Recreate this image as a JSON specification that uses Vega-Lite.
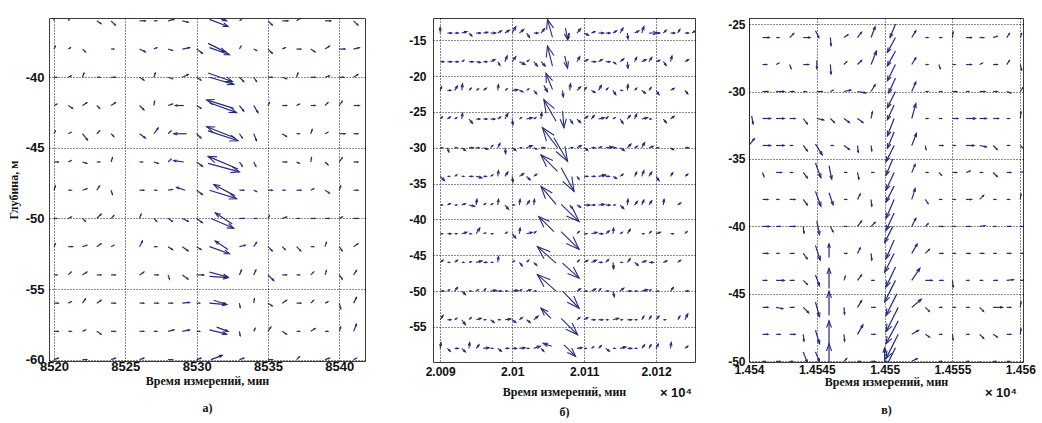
{
"$schema":"https://vega.github.io/schema/vega-lite/v6.json",
"background":"white",
"padding":{"left":6,"top":17,"right":0,"bottom":0},
"spacing":31,
"config":{
 "view":{"stroke":"#3a3a3a","strokeWidth":1},
 "axis":{"grid":true,"gridColor":"#000","gridDash":[1,2],"gridWidth":1,"gridOpacity":0.9,"ticks":false,"domain":false,"labelFont":"Liberation Sans","labelFontWeight":"bold","labelFontSize":12,"labelColor":"#111","labelFlush":false,"titleFont":"Liberation Serif","titleFontWeight":"bold","titleFontSize":12,"titleColor":"#111"}
},
"datasets":{
"a":[
{"x":8520,"y":-36,"u":0,"v":0.4},{"x":8521,"y":-36,"u":0.2,"v":0.3},{"x":8523,"y":-36,"u":0.3,"v":-0.2},{"x":8524,"y":-36,"u":0.3,"v":-0.3},{"x":8526,"y":-36,"u":0.4,"v":0},{"x":8527,"y":-36,"u":0.2,"v":0},{"x":8528,"y":-36,"u":0.4,"v":0.1},{"x":8529,"y":-36,"u":0.4,"v":-0.1},{"x":8530.9,"y":-35.9,"u":1.3,"v":-0.5},{"x":8531,"y":-35.6,"u":1.1,"v":-0.4},{"x":8533,"y":-36,"u":0.15,"v":0.1},{"x":8535,"y":-36,"u":0.3,"v":-0.3},{"x":8536,"y":-36,"u":0.4,"v":0},{"x":8537,"y":-36,"u":0.3,"v":0.2},{"x":8539,"y":-36,"u":0.4,"v":0},{"x":8541,"y":-36,"u":0.3,"v":-0.3},
{"x":8520,"y":-38,"u":0.1,"v":0.2},{"x":8521,"y":-38,"u":0.15,"v":0.1},{"x":8522,"y":-38,"u":0.2,"v":-0.2},{"x":8524,"y":-38,"u":0.2,"v":0},{"x":8526,"y":-38,"u":0.4,"v":-0.2},{"x":8527,"y":-38,"u":0.2,"v":0.1},{"x":8528,"y":-38,"u":0.3,"v":-0.1},{"x":8529,"y":-38,"u":0.5,"v":0.1},{"x":8530,"y":-38,"u":0.4,"v":-0.3},{"x":8530.9,"y":-37.9,"u":1.4,"v":-0.5},{"x":8530.8,"y":-37.6,"u":1.2,"v":-0.6},{"x":8533,"y":-38,"u":0.1,"v":0.2},{"x":8534,"y":-38,"u":0.2,"v":-0.1},{"x":8535,"y":-38,"u":0.3,"v":-0.3},{"x":8536,"y":-38,"u":0.2,"v":0.1},{"x":8537,"y":-38,"u":0.3,"v":0},{"x":8538,"y":-38,"u":0.3,"v":-0.2},{"x":8539,"y":-38,"u":0.3,"v":0.2},{"x":8540,"y":-38,"u":0.4,"v":0},{"x":8541,"y":-38,"u":0.4,"v":0.1},
{"x":8520,"y":-40,"u":0.2,"v":0},{"x":8521,"y":-40,"u":0.2,"v":0.1},{"x":8522,"y":-40,"u":0.1,"v":0.3},{"x":8523,"y":-40,"u":0.2,"v":0},{"x":8524,"y":-40,"u":0.3,"v":0},{"x":8526,"y":-40,"u":0.3,"v":-0.2},{"x":8527,"y":-40,"u":0.1,"v":0.3},{"x":8528,"y":-40,"u":0.3,"v":-0.1},{"x":8529,"y":-40,"u":0.4,"v":0.2},{"x":8530,"y":-40,"u":0.3,"v":-0.2},{"x":8530.8,"y":-39.7,"u":1.7,"v":-0.6},{"x":8530.9,"y":-40,"u":1.7,"v":-0.5},{"x":8533,"y":-40,"u":0.3,"v":-0.3},{"x":8534,"y":-40,"u":0.2,"v":-0.3},{"x":8535,"y":-40,"u":0.3,"v":0},{"x":8536,"y":-40,"u":0.3,"v":-0.1},{"x":8537,"y":-40,"u":0.1,"v":0.3},{"x":8538,"y":-40,"u":0.3,"v":0},{"x":8539,"y":-40,"u":0.3,"v":0.1},{"x":8540,"y":-40,"u":0.3,"v":0},{"x":8541,"y":-40,"u":0.3,"v":0.2},
{"x":8520,"y":-42,"u":0.2,"v":0.1},{"x":8521,"y":-42,"u":0.3,"v":-0.2},{"x":8522,"y":-42,"u":0.3,"v":0.2},{"x":8523,"y":-42,"u":0.2,"v":-0.2},{"x":8524,"y":-42,"u":0.3,"v":0.2},{"x":8526,"y":-42,"u":0.3,"v":-0.3},{"x":8527,"y":-42,"u":0.05,"v":0.3},{"x":8528,"y":-42,"u":0.3,"v":0.1},{"x":8529.1,"y":-42,"u":-0.6,"v":0},{"x":8530,"y":-42,"u":0.3,"v":-0.2},{"x":8532.6,"y":-42.2,"u":-1.9,"v":0.6},{"x":8530.9,"y":-41.8,"u":1.9,"v":-0.7},{"x":8533,"y":-42,"u":0.3,"v":-0.4},{"x":8534,"y":-42,"u":0.3,"v":-0.5},{"x":8535,"y":-42,"u":0.1,"v":0.2},{"x":8536,"y":-42,"u":0.3,"v":0},{"x":8537,"y":-42,"u":0.2,"v":0.1},{"x":8538,"y":-42,"u":0.3,"v":0},{"x":8539,"y":-42,"u":0.2,"v":0.2},{"x":8540,"y":-42,"u":0.2,"v":0.3},{"x":8541,"y":-42,"u":0.4,"v":0},
{"x":8520,"y":-44,"u":0.1,"v":0.2},{"x":8521,"y":-44,"u":0.2,"v":0.1},{"x":8522,"y":-44,"u":0.35,"v":-0.45},{"x":8523,"y":-44,"u":0.2,"v":0.2},{"x":8524,"y":-44,"u":0.2,"v":-0.2},{"x":8526,"y":-44,"u":0.4,"v":-0.3},{"x":8527,"y":-44,"u":0.3,"v":0.4},{"x":8528,"y":-44,"u":0.2,"v":0.2},{"x":8529.3,"y":-44,"u":-0.9,"v":0},{"x":8530,"y":-44,"u":0.3,"v":-0.3},{"x":8532.7,"y":-44.3,"u":-2,"v":0.8},{"x":8530.8,"y":-43.8,"u":2.1,"v":-0.7},{"x":8533,"y":-44,"u":0.2,"v":-0.3},{"x":8534,"y":-44,"u":0.2,"v":-0.5},{"x":8536,"y":-44,"u":0.3,"v":-0.2},{"x":8537,"y":-44,"u":0.2,"v":0},{"x":8538,"y":-44,"u":0.1,"v":0.3},{"x":8539,"y":-44,"u":0.2,"v":0.1},{"x":8540,"y":-44,"u":0.4,"v":0},{"x":8541,"y":-44,"u":0.3,"v":0},
{"x":8520,"y":-46,"u":0.3,"v":0},{"x":8521,"y":-46,"u":0.2,"v":0.1},{"x":8522,"y":-46,"u":0.3,"v":-0.1},{"x":8523,"y":-46,"u":0.2,"v":0},{"x":8524,"y":-46,"u":0.1,"v":0.3},{"x":8526,"y":-46,"u":0.2,"v":0},{"x":8527,"y":-46,"u":0.3,"v":-0.1},{"x":8528,"y":-46,"u":0.2,"v":0.2},{"x":8529.1,"y":-46,"u":-0.7,"v":0.1},{"x":8530,"y":-46,"u":0.4,"v":-0.3},{"x":8532.9,"y":-46.5,"u":-2.1,"v":0.9},{"x":8530.8,"y":-46.1,"u":2.2,"v":-0.6},{"x":8533,"y":-46,"u":0.2,"v":-0.3},{"x":8534,"y":-46,"u":0.15,"v":-0.3},{"x":8536,"y":-46,"u":0.3,"v":0},{"x":8537,"y":-46,"u":0.2,"v":-0.1},{"x":8538,"y":-46,"u":0.05,"v":0.3},{"x":8539,"y":-46,"u":0.2,"v":-0.2},{"x":8540,"y":-46,"u":0.2,"v":0.3},{"x":8541,"y":-46,"u":0.3,"v":0},
{"x":8520,"y":-48,"u":0.1,"v":0.3},{"x":8521,"y":-48,"u":0.2,"v":0},{"x":8522,"y":-48,"u":0.3,"v":0.1},{"x":8523,"y":-48,"u":0.2,"v":0.3},{"x":8524,"y":-48,"u":0.1,"v":-0.3},{"x":8526,"y":-48,"u":0.3,"v":0},{"x":8527,"y":-48,"u":0.2,"v":0},{"x":8528,"y":-48,"u":0.3,"v":0.05},{"x":8529.2,"y":-48,"u":-0.6,"v":0.2},{"x":8530,"y":-48,"u":0.4,"v":-0.3},{"x":8532.7,"y":-48.4,"u":-1.5,"v":0.8},{"x":8530.9,"y":-48,"u":1.9,"v":-0.6},{"x":8533,"y":-48,"u":0.3,"v":0},{"x":8534,"y":-48,"u":0.2,"v":-0.1},{"x":8535,"y":-48,"u":0.3,"v":0},{"x":8536,"y":-48,"u":0.2,"v":0},{"x":8537,"y":-48,"u":0.3,"v":0},{"x":8538,"y":-48,"u":0.2,"v":0.1},{"x":8539,"y":-48,"u":0.3,"v":-0.2},{"x":8540,"y":-48,"u":0.1,"v":0.3},{"x":8541,"y":-48,"u":0.3,"v":0},
{"x":8520,"y":-50,"u":0.2,"v":0},{"x":8521,"y":-50,"u":0.2,"v":0.1},{"x":8522,"y":-50,"u":0.2,"v":-0.2},{"x":8523,"y":-50,"u":0.3,"v":0.3},{"x":8524,"y":-50,"u":0.2,"v":0.2},{"x":8526,"y":-50,"u":0.1,"v":0.3},{"x":8527,"y":-50,"u":0.2,"v":-0.2},{"x":8528,"y":-50,"u":0.3,"v":-0.2},{"x":8529,"y":-50,"u":0.4,"v":-0.2},{"x":8530,"y":-50,"u":0.4,"v":-0.3},{"x":8532.5,"y":-50.4,"u":-1.2,"v":0.8},{"x":8531,"y":-50,"u":1.6,"v":-0.7},{"x":8533,"y":-50,"u":0.3,"v":0},{"x":8534,"y":-50,"u":0.2,"v":0},{"x":8535,"y":-50,"u":0.1,"v":0.2},{"x":8536,"y":-50,"u":0.3,"v":0.1},{"x":8537,"y":-50,"u":0.2,"v":0},{"x":8538,"y":-50,"u":0.3,"v":0},{"x":8539,"y":-50,"u":0.3,"v":0},{"x":8540,"y":-50,"u":0.2,"v":0.1},{"x":8541,"y":-50,"u":0.3,"v":0},
{"x":8520,"y":-52,"u":0.1,"v":0.2},{"x":8521,"y":-52,"u":0.3,"v":0},{"x":8522,"y":-52,"u":0.3,"v":0.1},{"x":8523,"y":-52,"u":0.3,"v":0.2},{"x":8524,"y":-52,"u":0.2,"v":0.1},{"x":8526,"y":-52,"u":0.2,"v":0.4},{"x":8527,"y":-52,"u":0.2,"v":0},{"x":8528,"y":-52,"u":0.3,"v":-0.2},{"x":8529,"y":-52,"u":0.4,"v":-0.3},{"x":8530,"y":-52,"u":0.3,"v":-0.2},{"x":8532.2,"y":-52.2,"u":-0.9,"v":0.6},{"x":8530.9,"y":-52,"u":1.4,"v":-0.5},{"x":8533,"y":-52,"u":0.4,"v":0.1},{"x":8534,"y":-52,"u":0.2,"v":0.3},{"x":8535,"y":-52,"u":0.3,"v":-0.3},{"x":8536,"y":-52,"u":0.2,"v":-0.2},{"x":8537,"y":-52,"u":0.3,"v":-0.3},{"x":8538,"y":-52,"u":0.2,"v":0},{"x":8539,"y":-52,"u":0.1,"v":0.3},{"x":8540,"y":-52,"u":0.2,"v":-0.3},{"x":8541,"y":-52,"u":0.3,"v":0.2},
{"x":8520,"y":-54,"u":0.2,"v":0},{"x":8521,"y":-54,"u":0.2,"v":0.2},{"x":8522,"y":-54,"u":0.3,"v":0.2},{"x":8523,"y":-54,"u":0.3,"v":0},{"x":8524,"y":-54,"u":0.3,"v":0},{"x":8526,"y":-54,"u":0.3,"v":0.2},{"x":8527,"y":-54,"u":0.3,"v":0},{"x":8528,"y":-54,"u":0.1,"v":-0.3},{"x":8529,"y":-54,"u":0.4,"v":-0.3},{"x":8530,"y":-54,"u":0.5,"v":0},{"x":8530.9,"y":-53.8,"u":1.3,"v":-0.35},{"x":8530.9,"y":-54.1,"u":1.3,"v":-0.1},{"x":8533,"y":-54,"u":0.15,"v":0.35},{"x":8534,"y":-54,"u":0.15,"v":0.35},{"x":8535,"y":-54,"u":0.4,"v":-0.4},{"x":8536,"y":-54,"u":0.3,"v":0},{"x":8537,"y":-54,"u":0.2,"v":0},{"x":8538,"y":-54,"u":0.2,"v":0.2},{"x":8539,"y":-54,"u":0.1,"v":0.3},{"x":8540,"y":-54,"u":0.2,"v":-0.3},{"x":8541,"y":-54,"u":0.2,"v":0.3},
{"x":8520,"y":-56,"u":0.3,"v":0},{"x":8521,"y":-56,"u":0.2,"v":0.1},{"x":8522,"y":-56,"u":0.2,"v":0.3},{"x":8523,"y":-56,"u":0.3,"v":0.2},{"x":8524,"y":-56,"u":0.3,"v":0},{"x":8526,"y":-56,"u":0.3,"v":0},{"x":8527,"y":-56,"u":0.3,"v":0},{"x":8528,"y":-56,"u":0.3,"v":0},{"x":8529,"y":-56,"u":0.5,"v":0.05},{"x":8530,"y":-56,"u":0.2,"v":0},{"x":8530.9,"y":-56,"u":1.2,"v":-0.1},{"x":8531.2,"y":-55.8,"u":0.9,"v":-0.3},{"x":8533,"y":-56,"u":0.05,"v":-0.3},{"x":8534,"y":-56,"u":0.05,"v":0.3},{"x":8535,"y":-56,"u":0.3,"v":-0.2},{"x":8536,"y":-56,"u":0.3,"v":0.2},{"x":8537,"y":-56,"u":0.3,"v":0},{"x":8538,"y":-56,"u":0.2,"v":0.2},{"x":8539,"y":-56,"u":0.2,"v":0.1},{"x":8540,"y":-56,"u":0.1,"v":-0.4},{"x":8541,"y":-56,"u":0.2,"v":0.4},
{"x":8520,"y":-58,"u":0.3,"v":0},{"x":8521,"y":-58,"u":0.2,"v":0},{"x":8522,"y":-58,"u":0.2,"v":0.1},{"x":8523,"y":-58,"u":0.3,"v":-0.2},{"x":8524,"y":-58,"u":0.3,"v":0},{"x":8526,"y":-58,"u":0.3,"v":0},{"x":8527,"y":-58,"u":0.2,"v":0},{"x":8528,"y":-58,"u":0.4,"v":0.1},{"x":8529,"y":-58,"u":0.5,"v":0.1},{"x":8530,"y":-58,"u":0.2,"v":0},{"x":8530.9,"y":-57.9,"u":1.2,"v":-0.3},{"x":8531.4,"y":-57.7,"u":0.8,"v":-0.3},{"x":8533,"y":-58,"u":0.05,"v":-0.3},{"x":8534,"y":-58,"u":0.1,"v":0.2},{"x":8535,"y":-58,"u":0.2,"v":0.3},{"x":8536,"y":-58,"u":0.3,"v":-0.2},{"x":8537,"y":-58,"u":0.2,"v":0},{"x":8538,"y":-58,"u":0.3,"v":0.2},{"x":8539,"y":-58,"u":0.2,"v":0},{"x":8540,"y":-58,"u":0.1,"v":0.3},{"x":8541,"y":-58,"u":0.2,"v":0.5},
{"x":8520,"y":-60,"u":0.3,"v":0.1},{"x":8522,"y":-60,"u":0.3,"v":0},{"x":8524,"y":-60,"u":0.3,"v":0.1},{"x":8526,"y":-60,"u":0.3,"v":0.1},{"x":8528,"y":-60,"u":0.3,"v":0},{"x":8530,"y":-60,"u":0.3,"v":0.1},{"x":8531,"y":-60,"u":0.8,"v":0.3},{"x":8533,"y":-60,"u":0.3,"v":0.1},{"x":8535,"y":-60,"u":0.3,"v":0},{"x":8537,"y":-60,"u":0.2,"v":0.2},{"x":8539,"y":-60,"u":0.3,"v":0.1},{"x":8541,"y":-60,"u":0.2,"v":0.1}
],
"b":[
{"x":20090,"y":-14,"u":0,"v":0.8},{"x":20091,"y":-14,"u":0.6,"v":0},{"x":20092,"y":-14,"u":0.5,"v":0},{"x":20093,"y":-14,"u":0.7,"v":0.2},{"x":20094,"y":-14,"u":0.4,"v":-0.4},{"x":20095,"y":-14,"u":0.6,"v":0},{"x":20096,"y":-14,"u":0.6,"v":0.1},{"x":20097,"y":-14,"u":0.7,"v":0},{"x":20098,"y":-14,"u":0.5,"v":0.3},{"x":20099,"y":-14,"u":0.6,"v":0.4},{"x":20100,"y":-14,"u":0.5,"v":0.9},{"x":20101,"y":-14,"u":0.6,"v":0.5},{"x":20102,"y":-14,"u":0.4,"v":-0.6},{"x":20103,"y":-14,"u":0.6,"v":0},{"x":20104,"y":-14,"u":0.5,"v":0.6},{"x":20105.6,"y":-14.6,"u":-0.7,"v":2.5},{"x":20107.4,"y":-13.3,"u":0.3,"v":-1.6},{"x":20108,"y":-14,"u":-0.3,"v":-0.9},{"x":20109,"y":-14,"u":0.5,"v":0.6},{"x":20110,"y":-14,"u":0.6,"v":-0.3},{"x":20111,"y":-14,"u":0.5,"v":0.2},{"x":20112,"y":-14,"u":0.7,"v":0},{"x":20113,"y":-14,"u":0.6,"v":0},{"x":20114,"y":-14,"u":0.5,"v":0.3},{"x":20115,"y":-14,"u":0.4,"v":0.7},{"x":20116,"y":-14,"u":0.1,"v":-0.8},{"x":20117,"y":-14,"u":0.6,"v":0.3},{"x":20118,"y":-14,"u":0.3,"v":0.9},{"x":20119,"y":-14,"u":1.2,"v":0},{"x":20120,"y":-14,"u":0.5,"v":0},{"x":20121,"y":-14,"u":0.4,"v":0.4},{"x":20122,"y":-14,"u":0.6,"v":0},{"x":20123,"y":-14,"u":0.3,"v":0.5},{"x":20124,"y":-14,"u":0.5,"v":0},{"x":20125,"y":-14,"u":0.4,"v":0.3},
{"x":20090,"y":-18,"u":0.5,"v":0},{"x":20091,"y":-18,"u":0.6,"v":0},{"x":20092,"y":-18,"u":0.5,"v":0},{"x":20093,"y":-18,"u":0.3,"v":0.2},{"x":20094,"y":-18,"u":0.6,"v":0},{"x":20095,"y":-18,"u":0.6,"v":-0.1},{"x":20096,"y":-18,"u":0.5,"v":0},{"x":20097,"y":-18,"u":0.6,"v":0.3},{"x":20098,"y":-18,"u":0.3,"v":-0.5},{"x":20099,"y":-18,"u":0.3,"v":0.8},{"x":20100,"y":-18,"u":0.5,"v":0.7},{"x":20101,"y":-18,"u":0.8,"v":-0.4},{"x":20102,"y":-18,"u":0.3,"v":0.2},{"x":20103,"y":-18,"u":0.5,"v":-0.6},{"x":20104,"y":-18,"u":0.6,"v":-0.6},{"x":20105.6,"y":-18.6,"u":-0.7,"v":2.8},{"x":20107.3,"y":-17.2,"u":0.4,"v":-1.7},{"x":20109,"y":-18,"u":0.4,"v":0.7},{"x":20110,"y":-18,"u":0.5,"v":0.3},{"x":20111,"y":-18,"u":0.6,"v":0},{"x":20112,"y":-18,"u":0.5,"v":0.3},{"x":20113,"y":-18,"u":0.6,"v":0},{"x":20114,"y":-18,"u":0.4,"v":-0.3},{"x":20115,"y":-18,"u":0.5,"v":0.4},{"x":20116,"y":-18,"u":0.1,"v":-0.9},{"x":20117,"y":-18,"u":0.3,"v":0.6},{"x":20118,"y":-18,"u":0.6,"v":0.3},{"x":20119,"y":-18,"u":0.4,"v":0.6},{"x":20120,"y":-18,"u":0.5,"v":0.2},{"x":20121,"y":-18,"u":0.4,"v":-0.5},{"x":20122,"y":-18,"u":0.2,"v":0.8},{"x":20124,"y":-18,"u":0.5,"v":0.3},
{"x":20090,"y":-22,"u":0.2,"v":0.5},{"x":20091,"y":-22,"u":0.5,"v":0},{"x":20092,"y":-22,"u":0.4,"v":0.6},{"x":20093,"y":-22,"u":0.1,"v":0.9},{"x":20094,"y":-22,"u":0.3,"v":0.3},{"x":20095,"y":-22,"u":0.3,"v":0.2},{"x":20096,"y":-22,"u":0.4,"v":0.3},{"x":20098,"y":-22,"u":0.1,"v":0.8},{"x":20099,"y":-22,"u":0.3,"v":0.2},{"x":20100,"y":-22,"u":0.8,"v":0.1},{"x":20101,"y":-22,"u":0.5,"v":-0.2},{"x":20102,"y":-22,"u":0.3,"v":0.2},{"x":20103,"y":-22,"u":0.4,"v":-0.5},{"x":20104.4,"y":-21.3,"u":0.5,"v":-0.9},{"x":20105.6,"y":-21.9,"u":-0.9,"v":2.3},{"x":20107,"y":-22,"u":0.1,"v":-0.9},{"x":20108,"y":-22,"u":0.1,"v":0.9},{"x":20109,"y":-22,"u":0.5,"v":0.5},{"x":20110,"y":-22,"u":0.3,"v":0.4},{"x":20111,"y":-22,"u":0.5,"v":-0.3},{"x":20112,"y":-22,"u":0.4,"v":0.7},{"x":20113,"y":-22,"u":0.3,"v":0.3},{"x":20114,"y":-22,"u":0.4,"v":-0.6},{"x":20115,"y":-22,"u":0.3,"v":0},{"x":20116,"y":-22,"u":0.1,"v":0.8},{"x":20117,"y":-22,"u":0.3,"v":0.3},{"x":20118,"y":-22,"u":0.5,"v":-0.4},{"x":20119,"y":-22,"u":0.3,"v":0.4},{"x":20120,"y":-22,"u":0.4,"v":-0.6},{"x":20122,"y":-22,"u":0.5,"v":0.3},{"x":20124,"y":-22,"u":0.4,"v":-0.5},
{"x":20090,"y":-26,"u":0.3,"v":0.3},{"x":20091,"y":-26,"u":0.4,"v":0.3},{"x":20092,"y":-26,"u":0.3,"v":0.2},{"x":20093,"y":-26,"u":0.1,"v":0.8},{"x":20094,"y":-26,"u":0.5,"v":-0.6},{"x":20095,"y":-26,"u":0.5,"v":0},{"x":20096,"y":-26,"u":0.5,"v":0},{"x":20097,"y":-26,"u":0.6,"v":0},{"x":20098,"y":-26,"u":0.4,"v":0.3},{"x":20099,"y":-26,"u":0.4,"v":0.8},{"x":20100,"y":-26,"u":0.1,"v":-0.8},{"x":20101,"y":-26,"u":0.3,"v":0.2},{"x":20102,"y":-26,"u":0.8,"v":0.2},{"x":20103,"y":-26,"u":0.3,"v":0.2},{"x":20104,"y":-26,"u":0.1,"v":0.9},{"x":20106.1,"y":-26.3,"u":-1.7,"v":3},{"x":20107,"y":-24.9,"u":0.2,"v":-2.3},{"x":20108,"y":-26,"u":0.4,"v":-0.6},{"x":20109,"y":-26,"u":0.5,"v":-0.5},{"x":20110,"y":-26,"u":0.5,"v":0.4},{"x":20111,"y":-26,"u":0.4,"v":0.5},{"x":20112,"y":-26,"u":0.8,"v":0.2},{"x":20113,"y":-26,"u":0.3,"v":0.3},{"x":20114,"y":-26,"u":0.3,"v":0.2},{"x":20115,"y":-26,"u":0.4,"v":-0.6},{"x":20116,"y":-26,"u":0.4,"v":0.5},{"x":20117,"y":-26,"u":0.3,"v":0.7},{"x":20118,"y":-26,"u":0.8,"v":0.2},{"x":20119,"y":-26,"u":0.3,"v":0},{"x":20121,"y":-26,"u":0.4,"v":-0.5},{"x":20122,"y":-26,"u":0.5,"v":0.4},
{"x":20090,"y":-30,"u":0.3,"v":0},{"x":20091,"y":-30,"u":0.2,"v":-0.6},{"x":20092,"y":-30,"u":0.3,"v":0},{"x":20093,"y":-30,"u":0.5,"v":-0.4},{"x":20094,"y":-30,"u":0.6,"v":0},{"x":20095,"y":-30,"u":0.4,"v":0},{"x":20096,"y":-30,"u":0.6,"v":-0.2},{"x":20097,"y":-30,"u":0.3,"v":0.3},{"x":20098,"y":-30,"u":0.3,"v":0.6},{"x":20099,"y":-30,"u":0.1,"v":-0.8},{"x":20100,"y":-30,"u":0.5,"v":-0.4},{"x":20101,"y":-30,"u":0.3,"v":0},{"x":20102,"y":-30,"u":0.8,"v":0.3},{"x":20103,"y":-30,"u":0.4,"v":-0.2},{"x":20104,"y":-30,"u":0.5,"v":0},{"x":20106.3,"y":-30,"u":-2.1,"v":2.8},{"x":20105.8,"y":-28.6,"u":1.9,"v":-3.3},{"x":20108,"y":-30,"u":0.4,"v":0},{"x":20109,"y":-30,"u":0.6,"v":0.3},{"x":20110,"y":-30,"u":0.5,"v":-0.4},{"x":20111,"y":-30,"u":0.5,"v":0},{"x":20112,"y":-30,"u":0.4,"v":0.1},{"x":20113,"y":-30,"u":1,"v":0.1},{"x":20114,"y":-30,"u":0.4,"v":0},{"x":20115,"y":-30,"u":0.6,"v":-0.4},{"x":20116,"y":-30,"u":0.5,"v":0.5},{"x":20117,"y":-30,"u":0.4,"v":0.2},{"x":20118,"y":-30,"u":0.4,"v":0.7},{"x":20119,"y":-30,"u":0.6,"v":0.2},{"x":20120,"y":-30,"u":0.3,"v":0},{"x":20122,"y":-30,"u":0.4,"v":-0.3},{"x":20124,"y":-30,"u":0.5,"v":0},
{"x":20090,"y":-34,"u":0.6,"v":-0.6},{"x":20091,"y":-34,"u":0.3,"v":0},{"x":20092,"y":-34,"u":0.3,"v":0.2},{"x":20093,"y":-34,"u":0.3,"v":0},{"x":20094,"y":-34,"u":0.5,"v":0},{"x":20095,"y":-34,"u":0.8,"v":-0.2},{"x":20096,"y":-34,"u":0.4,"v":0},{"x":20097,"y":-34,"u":0.3,"v":0.2},{"x":20098,"y":-34,"u":0.1,"v":0.8},{"x":20099,"y":-34,"u":0.4,"v":0.6},{"x":20100,"y":-34,"u":0.1,"v":-0.8},{"x":20101,"y":-34,"u":0.6,"v":0.4},{"x":20102,"y":-34,"u":0.5,"v":-0.5},{"x":20103,"y":-34,"u":0.4,"v":0.3},{"x":20106.3,"y":-33.3,"u":-2.3,"v":2.3},{"x":20106.8,"y":-32.8,"u":1.8,"v":-3.3},{"x":20109,"y":-34,"u":0.3,"v":-0.4},{"x":20110,"y":-34,"u":0.5,"v":0},{"x":20111,"y":-34,"u":0.5,"v":0},{"x":20112,"y":-34,"u":1,"v":0.2},{"x":20113,"y":-34,"u":0.5,"v":0},{"x":20114,"y":-34,"u":0.5,"v":-0.3},{"x":20115,"y":-34,"u":0.4,"v":0.3},{"x":20117,"y":-34,"u":0.3,"v":0.6},{"x":20118,"y":-34,"u":0.3,"v":0.8},{"x":20119,"y":-34,"u":0.4,"v":0.6},{"x":20120,"y":-34,"u":0.4,"v":-0.6},{"x":20122,"y":-34,"u":0.3,"v":0.5},{"x":20124,"y":-34,"u":0.4,"v":0.3},
{"x":20090,"y":-38,"u":0.3,"v":0},{"x":20091,"y":-38,"u":0.4,"v":0.2},{"x":20092,"y":-38,"u":0.3,"v":0},{"x":20093,"y":-38,"u":0.5,"v":0.2},{"x":20094,"y":-38,"u":0.8,"v":-0.2},{"x":20095,"y":-38,"u":0.1,"v":0.8},{"x":20096,"y":-38,"u":0.3,"v":0.2},{"x":20097,"y":-38,"u":0.3,"v":0.2},{"x":20098,"y":-38,"u":0.1,"v":0.8},{"x":20099,"y":-38,"u":0.5,"v":-0.6},{"x":20100,"y":-38,"u":0.3,"v":0},{"x":20101,"y":-38,"u":0.1,"v":0.8},{"x":20102,"y":-38,"u":0.4,"v":0.6},{"x":20103,"y":-38,"u":0.1,"v":0.8},{"x":20106.1,"y":-37.9,"u":-2.1,"v":2.5},{"x":20106.8,"y":-37.9,"u":2.5,"v":-2.4},{"x":20108,"y":-38,"u":0.4,"v":-0.5},{"x":20109,"y":-38,"u":0.5,"v":-0.3},{"x":20110,"y":-38,"u":0.8,"v":0},{"x":20111,"y":-38,"u":0.5,"v":0},{"x":20112,"y":-38,"u":0.8,"v":0.1},{"x":20113,"y":-38,"u":0.6,"v":0},{"x":20114,"y":-38,"u":0.3,"v":0},{"x":20115,"y":-38,"u":0.5,"v":-0.5},{"x":20116,"y":-38,"u":0.1,"v":0.8},{"x":20117,"y":-38,"u":0.4,"v":0.5},{"x":20118,"y":-38,"u":0.3,"v":0.7},{"x":20119,"y":-38,"u":0.4,"v":0.6},{"x":20121,"y":-38,"u":0.1,"v":0.8},{"x":20123,"y":-38,"u":0.4,"v":0.3},
{"x":20090,"y":-42,"u":0.3,"v":0},{"x":20091,"y":-42,"u":0.5,"v":0},{"x":20092,"y":-42,"u":0.3,"v":0},{"x":20093,"y":-42,"u":0.7,"v":0.2},{"x":20094,"y":-42,"u":0.3,"v":0},{"x":20095,"y":-42,"u":0.5,"v":0.8},{"x":20096,"y":-42,"u":0.3,"v":0.1},{"x":20097,"y":-42,"u":0.3,"v":0},{"x":20099,"y":-42,"u":0.3,"v":0.2},{"x":20100,"y":-42,"u":0.5,"v":-0.6},{"x":20101,"y":-42,"u":0.1,"v":0.8},{"x":20102,"y":-42,"u":0.8,"v":0.2},{"x":20103,"y":-42,"u":0.3,"v":0.3},{"x":20105.8,"y":-41.7,"u":-2.1,"v":2.1},{"x":20106.8,"y":-41.7,"u":2.5,"v":-2.5},{"x":20109,"y":-42,"u":0.3,"v":0.3},{"x":20110,"y":-42,"u":0.4,"v":0},{"x":20111,"y":-42,"u":0.8,"v":0.2},{"x":20112,"y":-42,"u":0.6,"v":0},{"x":20113,"y":-42,"u":0.5,"v":0.4},{"x":20114,"y":-42,"u":0.1,"v":0.8},{"x":20115,"y":-42,"u":0.3,"v":0.2},{"x":20116,"y":-42,"u":0.4,"v":0.6},{"x":20118,"y":-42,"u":0.3,"v":0},{"x":20119,"y":-42,"u":0.3,"v":0.3},{"x":20120,"y":-42,"u":0.6,"v":0.2},{"x":20122,"y":-42,"u":0.4,"v":0},{"x":20124,"y":-42,"u":0.3,"v":0.3},
{"x":20090,"y":-46,"u":0.4,"v":0.3},{"x":20091,"y":-46,"u":0.3,"v":0},{"x":20092,"y":-46,"u":0.4,"v":0.3},{"x":20093,"y":-46,"u":0.3,"v":0},{"x":20094,"y":-46,"u":0.3,"v":0.1},{"x":20095,"y":-46,"u":0.8,"v":0.2},{"x":20096,"y":-46,"u":0.5,"v":0},{"x":20097,"y":-46,"u":0.3,"v":0},{"x":20098,"y":-46,"u":0.1,"v":0.8},{"x":20100,"y":-46,"u":0.3,"v":0.2},{"x":20101,"y":-46,"u":0.4,"v":-0.5},{"x":20102,"y":-46,"u":0.3,"v":0.3},{"x":20103,"y":-46,"u":0.4,"v":-0.4},{"x":20106.1,"y":-46.1,"u":-2.6,"v":2.3},{"x":20107,"y":-46.1,"u":2.3,"v":-2.1},{"x":20109,"y":-46,"u":0.3,"v":0.3},{"x":20110,"y":-46,"u":0.5,"v":0.3},{"x":20111,"y":-46,"u":0.7,"v":0.3},{"x":20112,"y":-46,"u":0.5,"v":0},{"x":20113,"y":-46,"u":0.4,"v":0.4},{"x":20114,"y":-46,"u":0.1,"v":-0.9},{"x":20115,"y":-46,"u":0.3,"v":0},{"x":20116,"y":-46,"u":0.4,"v":0.5},{"x":20117,"y":-46,"u":0.5,"v":-0.4},{"x":20118,"y":-46,"u":0.6,"v":0.2},{"x":20119,"y":-46,"u":0.6,"v":0},{"x":20121,"y":-46,"u":0.5,"v":0.2},{"x":20123,"y":-46,"u":0.4,"v":0.3},
{"x":20090,"y":-50,"u":0.5,"v":0},{"x":20091,"y":-50,"u":0.3,"v":0.2},{"x":20092,"y":-50,"u":0.4,"v":0.5},{"x":20093,"y":-50,"u":0.5,"v":-0.5},{"x":20094,"y":-50,"u":0.3,"v":0},{"x":20095,"y":-50,"u":0.3,"v":0.2},{"x":20096,"y":-50,"u":0.3,"v":0.3},{"x":20097,"y":-50,"u":0.8,"v":0.1},{"x":20098,"y":-50,"u":0.5,"v":0},{"x":20099,"y":-50,"u":0.3,"v":0},{"x":20100,"y":-50,"u":0.8,"v":0.1},{"x":20101,"y":-50,"u":0.3,"v":0.2},{"x":20102,"y":-50,"u":0.6,"v":0.2},{"x":20103,"y":-50,"u":0.3,"v":0},{"x":20106.1,"y":-50,"u":-2.6,"v":2.3},{"x":20107,"y":-50,"u":2.3,"v":-2.4},{"x":20109,"y":-50,"u":0.5,"v":0.3},{"x":20110,"y":-50,"u":0.4,"v":0},{"x":20111,"y":-50,"u":0.6,"v":0.3},{"x":20112,"y":-50,"u":0.3,"v":0.3},{"x":20113,"y":-50,"u":0.4,"v":0},{"x":20114,"y":-50,"u":0.2,"v":-0.8},{"x":20115,"y":-50,"u":0.5,"v":0.4},{"x":20116,"y":-50,"u":0.5,"v":0},{"x":20117,"y":-50,"u":0.3,"v":0},{"x":20118,"y":-50,"u":0.8,"v":0.2},{"x":20119,"y":-50,"u":0.3,"v":0.2},{"x":20120,"y":-50,"u":0.3,"v":0},{"x":20122,"y":-50,"u":0.4,"v":0.5},{"x":20124,"y":-50,"u":0.5,"v":0},
{"x":20090,"y":-54,"u":0.4,"v":0.6},{"x":20091,"y":-54,"u":0.5,"v":0},{"x":20092,"y":-54,"u":0.3,"v":0.2},{"x":20093,"y":-54,"u":0.5,"v":-0.7},{"x":20094,"y":-54,"u":0.3,"v":0.3},{"x":20095,"y":-54,"u":0.7,"v":0.2},{"x":20096,"y":-54,"u":0.3,"v":0},{"x":20097,"y":-54,"u":0.5,"v":-0.4},{"x":20098,"y":-54,"u":0.3,"v":0},{"x":20099,"y":-54,"u":0.8,"v":0.1},{"x":20100,"y":-54,"u":0.5,"v":-0.4},{"x":20101,"y":-54,"u":0.4,"v":0.3},{"x":20102,"y":-54,"u":0.5,"v":-0.4},{"x":20103,"y":-54,"u":0.6,"v":0.5},{"x":20105.4,"y":-53.8,"u":-1.4,"v":1.4},{"x":20106.8,"y":-53.8,"u":2.3,"v":-2.3},{"x":20109,"y":-54,"u":0.4,"v":0.3},{"x":20110,"y":-54,"u":0.5,"v":0.3},{"x":20111,"y":-54,"u":0.5,"v":0},{"x":20112,"y":-54,"u":0.6,"v":0},{"x":20113,"y":-54,"u":0.3,"v":0},{"x":20114,"y":-54,"u":0.8,"v":0.2},{"x":20115,"y":-54,"u":0.3,"v":0},{"x":20116,"y":-54,"u":0.6,"v":0},{"x":20117,"y":-54,"u":0.3,"v":0},{"x":20118,"y":-54,"u":0.3,"v":0.5},{"x":20119,"y":-54,"u":0.3,"v":0.5},{"x":20120,"y":-54,"u":0.4,"v":0.5},{"x":20121,"y":-54,"u":0.3,"v":0},{"x":20123,"y":-54,"u":0.3,"v":0.5},{"x":20124,"y":-54,"u":0.4,"v":0.8},
{"x":20090,"y":-58,"u":0.1,"v":0.8},{"x":20091,"y":-58,"u":0.4,"v":-0.4},{"x":20092,"y":-58,"u":0.5,"v":0},{"x":20093,"y":-58,"u":0.5,"v":-0.5},{"x":20094,"y":-58,"u":0.1,"v":0.8},{"x":20095,"y":-58,"u":0.4,"v":0.5},{"x":20096,"y":-58,"u":0.8,"v":0.1},{"x":20097,"y":-58,"u":0.3,"v":0},{"x":20098,"y":-58,"u":0.5,"v":-0.4},{"x":20099,"y":-58,"u":0.5,"v":0},{"x":20100,"y":-58,"u":0.6,"v":0},{"x":20101,"y":-58,"u":0.8,"v":0.1},{"x":20102,"y":-58,"u":0.3,"v":0},{"x":20103,"y":-58,"u":0.9,"v":0.3},{"x":20104,"y":-58,"u":0.4,"v":-0.4},{"x":20107.2,"y":-57.5,"u":1.6,"v":-1.6},{"x":20105.5,"y":-57.7,"u":-1.2,"v":0.4},{"x":20109,"y":-58,"u":0.7,"v":0.1},{"x":20110,"y":-58,"u":0.3,"v":0},{"x":20111,"y":-58,"u":0.3,"v":0.2},{"x":20112,"y":-58,"u":0.4,"v":0.4},{"x":20113,"y":-58,"u":0.5,"v":-0.4},{"x":20114,"y":-58,"u":0.3,"v":0},{"x":20115,"y":-58,"u":0.8,"v":0.2},{"x":20116,"y":-58,"u":0.6,"v":0},{"x":20117,"y":-58,"u":0.3,"v":0},{"x":20118,"y":-58,"u":0.4,"v":0.5},{"x":20119,"y":-58,"u":0.3,"v":0.5},{"x":20120,"y":-58,"u":0.3,"v":0.6},{"x":20122,"y":-58,"u":0.1,"v":0.8},{"x":20124,"y":-58,"u":0.4,"v":0.3}
],
"c":[
{"x":14541,"y":-26,"u":0.5,"v":0},{"x":14542,"y":-26,"u":0.2,"v":0},{"x":14543,"y":-26,"u":0.3,"v":0.3},{"x":14544,"y":-26,"u":0.5,"v":0},{"x":14544.9,"y":-25.5,"u":0.25,"v":-0.5},{"x":14546,"y":-26,"u":0.05,"v":-0.6},{"x":14547,"y":-26,"u":0.3,"v":0.2},{"x":14548,"y":-26,"u":0.3,"v":0.4},{"x":14549,"y":-26,"u":0.3,"v":0.8},{"x":14552,"y":-26,"u":0.3,"v":0.5},{"x":14553,"y":-26,"u":0.2,"v":0},{"x":14554,"y":-26,"u":0.2,"v":0},{"x":14555,"y":-26,"u":0.05,"v":0.4},{"x":14556,"y":-26,"u":0.4,"v":0},{"x":14557,"y":-26,"u":0.3,"v":0},{"x":14558,"y":-26,"u":0.3,"v":0.1},{"x":14559,"y":-26,"u":0.2,"v":0.3},{"x":14560,"y":-26,"u":0.1,"v":0.3},
{"x":14541,"y":-28,"u":0.3,"v":0},{"x":14542,"y":-28,"u":0.2,"v":0.1},{"x":14543,"y":-28,"u":0.1,"v":-0.3},{"x":14544,"y":-28,"u":0.4,"v":0},{"x":14545,"y":-27.7,"u":0,"v":-0.6},{"x":14546,"y":-28,"u":0.05,"v":-0.7},{"x":14547,"y":-28,"u":0.2,"v":0.2},{"x":14548,"y":-28,"u":0.3,"v":0.3},{"x":14549,"y":-28,"u":0.4,"v":1},{"x":14552,"y":-28,"u":0.3,"v":0.5},{"x":14553,"y":-28,"u":0.2,"v":0},{"x":14554,"y":-28,"u":0.1,"v":-0.3},{"x":14555,"y":-28,"u":0.2,"v":0},{"x":14556,"y":-28,"u":0.4,"v":0},{"x":14557,"y":-28,"u":0.2,"v":0.1},{"x":14558,"y":-28,"u":0.3,"v":0},{"x":14559,"y":-28,"u":0.2,"v":0.3},{"x":14560,"y":-28,"u":0.1,"v":-0.4},
{"x":14541,"y":-30,"u":0.4,"v":0},{"x":14542,"y":-30,"u":0.6,"v":0},{"x":14543,"y":-30,"u":0.3,"v":0},{"x":14544,"y":-30,"u":0.2,"v":0},{"x":14545,"y":-30,"u":0.4,"v":0},{"x":14546,"y":-30,"u":0.2,"v":0.1},{"x":14547,"y":-30,"u":0.5,"v":0.1},{"x":14548,"y":-30,"u":0.6,"v":-0.1},{"x":14549,"y":-30,"u":0.3,"v":0.5},{"x":14552,"y":-30,"u":0.3,"v":0.7},{"x":14553,"y":-30,"u":0.2,"v":0},{"x":14554,"y":-30,"u":0.2,"v":0},{"x":14555,"y":-30,"u":0.3,"v":0},{"x":14556,"y":-30,"u":0.2,"v":0},{"x":14557,"y":-30,"u":0.4,"v":0},{"x":14558,"y":-30,"u":0.3,"v":0},{"x":14559,"y":-30,"u":0.3,"v":-0.1},{"x":14560,"y":-30,"u":0.2,"v":0.3},
{"x":14540.2,"y":-31.8,"u":0.1,"v":-0.6},{"x":14541,"y":-32,"u":0.6,"v":0},{"x":14542,"y":-32,"u":0.6,"v":0},{"x":14543,"y":-32,"u":0.4,"v":0},{"x":14544,"y":-32,"u":0.3,"v":-0.4},{"x":14545,"y":-32,"u":0.5,"v":-0.1},{"x":14546,"y":-32,"u":0.3,"v":-0.3},{"x":14547,"y":-32,"u":0.4,"v":-0.3},{"x":14548,"y":-32,"u":0.4,"v":-0.3},{"x":14549,"y":-32,"u":0.1,"v":0.5},{"x":14552,"y":-32,"u":0.3,"v":1.1},{"x":14553,"y":-32,"u":0.2,"v":0},{"x":14554,"y":-32,"u":0.2,"v":0},{"x":14555,"y":-32,"u":0.4,"v":0},{"x":14556,"y":-32,"u":0.7,"v":0},{"x":14557,"y":-32,"u":0.5,"v":0},{"x":14558,"y":-32,"u":0.4,"v":0},{"x":14559,"y":-32,"u":0.2,"v":0},{"x":14560,"y":-32,"u":0.05,"v":0.5},
{"x":14540,"y":-34,"u":0.4,"v":0.5},{"x":14541,"y":-34,"u":0.6,"v":0},{"x":14542,"y":-34,"u":0.6,"v":0},{"x":14543,"y":-34,"u":0.2,"v":0},{"x":14544,"y":-34,"u":0.3,"v":-0.4},{"x":14544.9,"y":-33.9,"u":0.5,"v":-0.8},{"x":14546,"y":-34,"u":0.2,"v":0},{"x":14547,"y":-34,"u":0.4,"v":-0.3},{"x":14548,"y":-34,"u":0.05,"v":-0.5},{"x":14549,"y":-34,"u":0.05,"v":-0.4},{"x":14552,"y":-34,"u":0.35,"v":0.9},{"x":14553,"y":-34,"u":0.05,"v":-0.3},{"x":14554,"y":-34,"u":0.3,"v":0},{"x":14555,"y":-34,"u":0.2,"v":0},{"x":14556,"y":-34,"u":0.6,"v":0},{"x":14557,"y":-34,"u":0.5,"v":-0.1},{"x":14558,"y":-34,"u":0.3,"v":-0.3},{"x":14559,"y":-34,"u":0.2,"v":0},{"x":14560,"y":-34,"u":0.3,"v":-0.3},
{"x":14541,"y":-36,"u":0.1,"v":-0.3},{"x":14542,"y":-36,"u":0.4,"v":0},{"x":14543,"y":-36,"u":0.2,"v":0},{"x":14544,"y":-36,"u":0.3,"v":-0.4},{"x":14544.9,"y":-35.3,"u":0.4,"v":-1.1},{"x":14545.9,"y":-35.5,"u":0.2,"v":-1},{"x":14547,"y":-36,"u":0.2,"v":0},{"x":14548,"y":-36,"u":0.1,"v":-0.5},{"x":14549,"y":-36,"u":0.2,"v":0},{"x":14552,"y":-36,"u":0.25,"v":0.6},{"x":14553,"y":-36,"u":0.2,"v":0},{"x":14554,"y":-36,"u":0.2,"v":-0.2},{"x":14555,"y":-36,"u":0.3,"v":0},{"x":14556,"y":-36,"u":0.3,"v":0.1},{"x":14557,"y":-36,"u":0.2,"v":0},{"x":14558,"y":-36,"u":0.3,"v":-0.3},{"x":14559,"y":-36,"u":0.3,"v":0},{"x":14560,"y":-36,"u":0.3,"v":0.1},
{"x":14541,"y":-38,"u":0.4,"v":0},{"x":14542,"y":-38,"u":0.2,"v":0},{"x":14543,"y":-38,"u":0.4,"v":0},{"x":14544,"y":-38,"u":0.3,"v":-0.4},{"x":14544.9,"y":-37.4,"u":0.4,"v":-1.1},{"x":14545.9,"y":-37.5,"u":0.3,"v":-0.9},{"x":14547,"y":-38,"u":0.2,"v":0},{"x":14548,"y":-38,"u":0.2,"v":0.4},{"x":14549,"y":-38,"u":0.05,"v":-0.5},{"x":14552,"y":-38,"u":0.25,"v":0.8},{"x":14553,"y":-38,"u":0.2,"v":-0.3},{"x":14554,"y":-38,"u":0.2,"v":0},{"x":14555,"y":-38,"u":0.2,"v":0},{"x":14556,"y":-38,"u":0.4,"v":0},{"x":14557,"y":-38,"u":0.3,"v":0.3},{"x":14558,"y":-38,"u":0.2,"v":0},{"x":14559,"y":-38,"u":0.2,"v":0},{"x":14560,"y":-38,"u":0.05,"v":0.4},
{"x":14541,"y":-40,"u":0.5,"v":0},{"x":14542,"y":-40,"u":0.3,"v":0},{"x":14543,"y":-40,"u":0.4,"v":0},{"x":14544,"y":-40,"u":0.05,"v":-0.5},{"x":14545,"y":-39.6,"u":0.2,"v":-1},{"x":14546,"y":-40,"u":0.2,"v":-0.4},{"x":14547,"y":-40,"u":0.2,"v":0},{"x":14548,"y":-40,"u":0.3,"v":0.4},{"x":14549,"y":-40,"u":0.3,"v":0.3},{"x":14552,"y":-40,"u":0.3,"v":0.6},{"x":14553,"y":-40,"u":0.2,"v":0.2},{"x":14554,"y":-40,"u":0.3,"v":0},{"x":14555,"y":-40,"u":0.2,"v":0},{"x":14556,"y":-40,"u":0.3,"v":0},{"x":14557,"y":-40,"u":0.4,"v":0.05},{"x":14558,"y":-40,"u":0.2,"v":0},{"x":14559,"y":-40,"u":0.3,"v":0},{"x":14560,"y":-40,"u":0.3,"v":0},
{"x":14541,"y":-42,"u":0.4,"v":0},{"x":14542,"y":-42,"u":0.2,"v":0},{"x":14543,"y":-42,"u":0.3,"v":0},{"x":14544,"y":-42,"u":0.3,"v":-0.4},{"x":14544.9,"y":-41.4,"u":0.35,"v":-1.1},{"x":14545.9,"y":-42.3,"u":0,"v":1},{"x":14547,"y":-42,"u":0.2,"v":0},{"x":14548,"y":-42,"u":0.2,"v":0.4},{"x":14549,"y":-42,"u":0.05,"v":-0.5},{"x":14552,"y":-42,"u":0.4,"v":0.7},{"x":14553,"y":-42,"u":0.3,"v":0.3},{"x":14554,"y":-42,"u":0.3,"v":0},{"x":14555,"y":-42,"u":0.2,"v":0},{"x":14556,"y":-42,"u":0.3,"v":0},{"x":14557,"y":-42,"u":0.3,"v":0},{"x":14558,"y":-42,"u":0.2,"v":0},{"x":14559,"y":-42,"u":0.3,"v":0},{"x":14560,"y":-42,"u":0.2,"v":0},
{"x":14541,"y":-44,"u":0.3,"v":0},{"x":14542,"y":-44,"u":0.6,"v":0},{"x":14543,"y":-44,"u":0.3,"v":0},{"x":14544,"y":-44,"u":0.3,"v":-0.3},{"x":14544.9,"y":-43.6,"u":0.3,"v":-0.8},{"x":14545.9,"y":-44.6,"u":0,"v":1.5},{"x":14547,"y":-44,"u":0.1,"v":0.3},{"x":14548,"y":-44,"u":0.3,"v":0.4},{"x":14549,"y":-44,"u":0.2,"v":0},{"x":14552,"y":-44,"u":0.6,"v":0.9},{"x":14553,"y":-44,"u":0.5,"v":0},{"x":14554,"y":-44,"u":0.3,"v":0},{"x":14555,"y":-44,"u":0.05,"v":-0.5},{"x":14556,"y":-44,"u":0.2,"v":0},{"x":14557,"y":-44,"u":0.2,"v":0},{"x":14558,"y":-44,"u":0.3,"v":0},{"x":14559,"y":-44,"u":0.5,"v":0.05},{"x":14560,"y":-44,"u":0.2,"v":0},
{"x":14541,"y":-46,"u":0.4,"v":0},{"x":14542,"y":-46,"u":0.5,"v":-0.1},{"x":14543,"y":-46,"u":0.3,"v":0},{"x":14544,"y":-46,"u":0.4,"v":-0.4},{"x":14544.9,"y":-45.6,"u":0.3,"v":-1.1},{"x":14545.9,"y":-46.6,"u":0,"v":1.8},{"x":14547,"y":-46,"u":0.05,"v":-0.5},{"x":14548,"y":-46,"u":0.3,"v":0.5},{"x":14549,"y":-46,"u":0.3,"v":0},{"x":14552,"y":-46,"u":0.7,"v":0.6},{"x":14553,"y":-46,"u":0.3,"v":-0.3},{"x":14554,"y":-46,"u":0.2,"v":0},{"x":14555,"y":-46,"u":0.2,"v":0},{"x":14556,"y":-46,"u":0.2,"v":0},{"x":14557,"y":-46,"u":0.3,"v":-0.3},{"x":14558,"y":-46,"u":0.7,"v":0},{"x":14559,"y":-46,"u":0.3,"v":0},{"x":14560,"y":-46,"u":0.05,"v":0.4},
{"x":14541,"y":-48,"u":0.4,"v":0},{"x":14542,"y":-48,"u":0.3,"v":0},{"x":14543,"y":-48,"u":0.4,"v":0},{"x":14544,"y":-48,"u":0.05,"v":-0.5},{"x":14544.9,"y":-47.7,"u":0.3,"v":-1},{"x":14545.9,"y":-48.8,"u":0,"v":1.8},{"x":14547,"y":-48,"u":0.05,"v":-0.5},{"x":14548,"y":-48,"u":0.4,"v":0.7},{"x":14549,"y":-48,"u":0.3,"v":0},{"x":14552,"y":-48,"u":0.5,"v":0.3},{"x":14553,"y":-48,"u":0.3,"v":-0.2},{"x":14554,"y":-48,"u":0.2,"v":0},{"x":14555,"y":-48,"u":0.05,"v":-0.4},{"x":14556,"y":-48,"u":0.2,"v":0},{"x":14557,"y":-48,"u":0.3,"v":-0.3},{"x":14558,"y":-48,"u":0.3,"v":-0.2},{"x":14559,"y":-48,"u":0.3,"v":0},{"x":14560,"y":-48,"u":0.05,"v":0.4},
{"x":14541,"y":-50,"u":0.2,"v":0},{"x":14542,"y":-50,"u":0.3,"v":0},{"x":14543,"y":-50,"u":0.2,"v":0},{"x":14544,"y":-49.3,"u":0.3,"v":-0.8},{"x":14544.9,"y":-49.3,"u":0.3,"v":-0.7},{"x":14545.9,"y":-50.6,"u":0,"v":1.9},{"x":14547,"y":-50,"u":0.2,"v":0.2},{"x":14548,"y":-50,"u":0.2,"v":0},{"x":14549,"y":-50,"u":0.3,"v":0},{"x":14550,"y":-50.3,"u":0,"v":1.3},{"x":14552,"y":-50,"u":0.4,"v":0.2},{"x":14554,"y":-50,"u":0.2,"v":0},{"x":14556,"y":-50,"u":0.2,"v":0},{"x":14557,"y":-50,"u":0.3,"v":-0.3},{"x":14558,"y":-50,"u":0.2,"v":0},{"x":14559,"y":-50,"u":0.2,"v":0},
{"x":14550.8,"y":-25,"u":-0.4,"v":-1},{"x":14550.8,"y":-26,"u":-0.6,"v":-1.1},{"x":14550.8,"y":-27,"u":-0.6,"v":-1.1},{"x":14550.8,"y":-28,"u":-0.6,"v":-1.2},{"x":14550.8,"y":-29,"u":-0.5,"v":-1.1},{"x":14550.8,"y":-30,"u":-0.6,"v":-1.2},{"x":14550.7,"y":-31,"u":-0.5,"v":-1.1},{"x":14550.7,"y":-32,"u":-0.5,"v":-1.3},{"x":14550.7,"y":-33,"u":-0.5,"v":-1.2},{"x":14550.7,"y":-34,"u":-0.6,"v":-1.2},{"x":14550.6,"y":-35,"u":-0.5,"v":-1.2},{"x":14550.7,"y":-36,"u":-0.6,"v":-1.3},{"x":14550.7,"y":-37,"u":-0.6,"v":-1.2},{"x":14550.7,"y":-38,"u":-0.6,"v":-1.4},{"x":14550.7,"y":-39,"u":-0.6,"v":-1.3},{"x":14550.6,"y":-40,"u":-0.6,"v":-1.2},{"x":14550.7,"y":-41,"u":-0.6,"v":-1.4},{"x":14550.7,"y":-42,"u":-0.7,"v":-1.4},{"x":14550.8,"y":-43,"u":-0.7,"v":-1.5},{"x":14550.8,"y":-44,"u":-0.8,"v":-1.6},{"x":14550.9,"y":-45,"u":-0.8,"v":-1.6},{"x":14551,"y":-46,"u":-0.9,"v":-1.8},{"x":14551,"y":-47,"u":-0.9,"v":-1.7},{"x":14551,"y":-48,"u":-0.9,"v":-1.8},{"x":14550.8,"y":-49,"u":-0.7,"v":-1.4}
]
},
"hconcat":[
{
 "width":316,"height":343,
 "data":{"name":"a"},
 "transform":[{"calculate":"datum.x+datum.u","as":"xe"},{"calculate":"datum.y+datum.v","as":"ye"},{"calculate":"atan2(datum.u,datum.v)*180/PI","as":"ang"},{"calculate":"sqrt(datum.u*datum.u+datum.v*datum.v)","as":"len"}],
 "layer":[
  {"mark":{"type":"rule","clip":true,"color":"#262a7d","strokeWidth":1.2},
   "encoding":{
    "x":{"field":"x","type":"quantitative","scale":{"domain":[8519.65,8541.8],"nice":false,"zero":false},"axis":{"values":[8520,8525,8530,8535,8540],"labelExpr":"''+datum.value","title":["Время измерений, мин","а)"],"titleLineHeight":27,"labelPadding":-1,"titlePadding":2,"labelFontSize":13}},
    "y":{"field":"y","type":"quantitative","scale":{"domain":[-60.1,-35.8],"nice":false,"zero":false},"axis":{"values":[-60,-55,-50,-45,-40],"labelExpr":"''+datum.value","title":"Глубина, м","titlePadding":5,"labelPadding":5,"labelFontSize":13}},
    "x2":{"field":"xe"},"y2":{"field":"ye"}}},
  {"mark":{"type":"point","clip":true,"shape":"M-0.4,1.1L0,0L0.4,1.1","filled":false,"color":"#262a7d","strokeWidth":1.1,"opacity":1},
   "encoding":{
    "x":{"field":"xe","type":"quantitative"},
    "y":{"field":"ye","type":"quantitative"},
    "angle":{"field":"ang","type":"quantitative","scale":null},
    "size":{"field":"len","type":"quantitative","scale":{"type":"pow","exponent":2,"domain":[0,4],"range":[0,750]},"legend":null}}}
 ]
},
{
 "width":262,"height":344,
 "layer":[
  {"data":{"name":"b"},
   "transform":[{"calculate":"datum.x+datum.u","as":"xe"},{"calculate":"datum.y+datum.v","as":"ye"},{"calculate":"atan2(datum.u,datum.v)*180/PI","as":"ang"},{"calculate":"sqrt(datum.u*datum.u+datum.v*datum.v)","as":"len"}],
   "layer":[
    {"mark":{"type":"rule","clip":true,"color":"#262a7d","strokeWidth":1.1},
     "encoding":{
      "x":{"field":"x","type":"quantitative","scale":{"domain":[20089,20125.4],"nice":false,"zero":false},"axis":{"values":[20090,20100,20110,20120],"labelExpr":"format(datum.value/10000,'~g')","title":["Время измерений, мин","б)"],"titleLineHeight":20,"labelPadding":4,"titlePadding":9}},
      "y":{"field":"y","type":"quantitative","scale":{"domain":[-59.9,-11.9],"nice":false,"zero":false},"axis":{"values":[-55,-50,-45,-40,-35,-30,-25,-20,-15],"labelExpr":"''+datum.value","title":null,"labelPadding":7,"minExtent":35}},
      "x2":{"field":"xe"},"y2":{"field":"ye"}}},
    {"mark":{"type":"point","clip":true,"shape":"M-0.4,1.1L0,0L0.4,1.1","filled":false,"color":"#262a7d","strokeWidth":1.1,"opacity":1},
     "encoding":{
      "x":{"field":"xe","type":"quantitative"},
      "y":{"field":"ye","type":"quantitative"},
      "angle":{"field":"ang","type":"quantitative","scale":null},
      "size":{"field":"len","type":"quantitative","scale":{"type":"pow","exponent":2,"domain":[0,4],"range":[0,170]},"legend":null}}}
   ]},
  {"data":{"values":[{"t":"× 10⁴"}]},
   "mark":{"type":"text","align":"right","baseline":"middle","dy":31,"dx":-3,"font":"Liberation Sans","fontSize":13,"fontWeight":"bold","color":"#111","clip":false},
   "encoding":{"text":{"field":"t"},"x":{"datum":20125.4,"type":"quantitative"},"y":{"datum":-59.9,"type":"quantitative"}}}
 ]
},
{
 "width":274,"height":344,
 "layer":[
  {"data":{"name":"c"},
   "transform":[{"calculate":"datum.x+datum.u","as":"xe"},{"calculate":"datum.y+datum.v","as":"ye"},{"calculate":"atan2(datum.u,datum.v)*180/PI","as":"ang"},{"calculate":"sqrt(datum.u*datum.u+datum.v*datum.v)","as":"len"}],
   "layer":[
    {"mark":{"type":"rule","clip":true,"color":"#262a7d","strokeWidth":1.2},
     "encoding":{
      "x":{"field":"x","type":"quantitative","scale":{"domain":[14540,14560.2],"nice":false,"zero":false},"axis":{"values":[14540,14545,14550,14555,14560],"labelExpr":"format(datum.value/10000,'~g')","title":["Время измерений, мин","в)"],"titleLineHeight":28,"labelPadding":2,"titlePadding":1}},
      "y":{"field":"y","type":"quantitative","scale":{"domain":[-50.05,-24.55],"nice":false,"zero":false},"axis":{"values":[-50,-45,-40,-35,-30,-25],"labelExpr":"''+datum.value","title":null,"labelPadding":4}},
      "x2":{"field":"xe"},"y2":{"field":"ye"}}},
    {"mark":{"type":"point","clip":true,"shape":"M-0.4,1.1L0,0L0.4,1.1","filled":false,"color":"#262a7d","strokeWidth":1.1,"opacity":1},
     "encoding":{
      "x":{"field":"xe","type":"quantitative"},
      "y":{"field":"ye","type":"quantitative"},
      "angle":{"field":"ang","type":"quantitative","scale":null},
      "size":{"field":"len","type":"quantitative","scale":{"type":"pow","exponent":2,"domain":[0,4],"range":[0,750]},"legend":null}}}
   ]},
  {"data":{"values":[{"t":"× 10⁴"}]},
   "mark":{"type":"text","align":"right","baseline":"middle","dy":31,"dx":-6,"font":"Liberation Sans","fontSize":13,"fontWeight":"bold","color":"#111","clip":false},
   "encoding":{"text":{"field":"t"},"x":{"datum":14560.2,"type":"quantitative"},"y":{"datum":-50.05,"type":"quantitative"}}}
 ]
}
]
}
